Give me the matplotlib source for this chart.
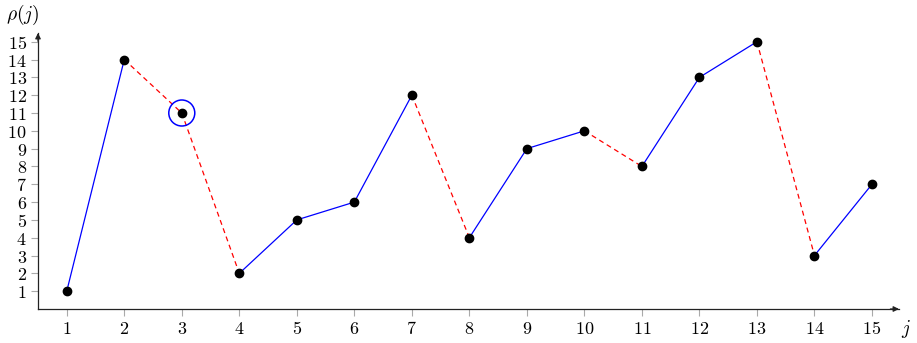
import matplotlib
matplotlib.use("Agg")
import matplotlib.pyplot as plt
from matplotlib.patches import Ellipse

plt.rcParams['mathtext.fontset'] = 'cm'
plt.rcParams['font.family'] = ['DejaVu Serif']

j_vals = [1, 2, 3, 4, 5, 6, 7, 8, 9, 10, 11, 12, 13, 14, 15]
rho_vals = [1, 14, 11, 2, 5, 6, 12, 4, 9, 10, 8, 13, 15, 3, 7]
highlight_j = 3
x_ticks = list(range(1, 16))
y_ticks = list(range(1, 16))

W, H = 917, 343
fig = plt.figure(figsize=(W / 100, H / 100), dpi=100)
left, right, bottom, top = 38 / W, 899 / W, 1 - 309 / H, 1 - 33 / H
ax = fig.add_axes([left, bottom, right - left, top - bottom])

xmin, xmax, ymin, ymax = 0.5, 15.47, 0.0, 15.49
ax.set_xlim(xmin, xmax)
ax.set_ylim(ymin, ymax)

for i in range(len(j_vals) - 1):
    x0, x1 = j_vals[i], j_vals[i + 1]
    y0, y1 = rho_vals[i], rho_vals[i + 1]
    if y1 > y0:
        ax.plot([x0, x1], [y0, y1], color='#0000ff', lw=0.9, solid_capstyle='butt', zorder=2)
    else:
        ax.plot([x0, x1], [y0, y1], color='#ff0000', lw=0.9, linestyle=(0, (4, 3)), zorder=2)

ax.plot(j_vals, rho_vals, linestyle='none', marker='o', markersize=6,
        color='black', zorder=3)

# circle around highlighted point (pixel radius ~13)
ux = (right - left) * W / (xmax - xmin)
uy = (top - bottom) * H / (ymax - ymin)
r_px = 13
hy = rho_vals[j_vals.index(highlight_j)]
ax.add_patch(Ellipse((highlight_j, hy), 2 * r_px / ux, 2 * r_px / uy,
                     fill=False, edgecolor='#0000ff', lw=1.1, zorder=4))

for s in ['top', 'right']:
    ax.spines[s].set_visible(False)
for s in ['left', 'bottom']:
    ax.spines[s].set_linewidth(0.9)
    ax.spines[s].set_color('#222222')

ax.set_xticks(x_ticks)
ax.set_yticks(y_ticks)
ax.set_xticklabels([f'${v}$' for v in x_ticks], fontsize=13)
ax.set_yticklabels([f'${v}$' for v in y_ticks], fontsize=13)
ax.tick_params(axis='both', direction='out', length=5, width=0.8, color='#aaaaaa', pad=3)

# arrows
ax.annotate('', xy=(1.0, 0), xytext=(0.99, 0), xycoords='axes fraction',
            arrowprops=dict(arrowstyle='-|>', color='#222222', lw=0.9,
                            mutation_scale=8, shrinkA=0, shrinkB=0), annotation_clip=False)
ax.annotate('', xy=(0, 1.0), xytext=(0, 0.97), xycoords='axes fraction',
            arrowprops=dict(arrowstyle='-|>', color='#222222', lw=0.9,
                            mutation_scale=8, shrinkA=0, shrinkB=0), annotation_clip=False)

fig.text(6 / W, 1 - 15 / H, r'$\rho(j)$', fontsize=14, ha='left', va='center')
fig.text(906 / W, 1 - 329 / H, r'$j$', fontsize=14, ha='center', va='center')

fig.savefig('out.png', dpi=100)
